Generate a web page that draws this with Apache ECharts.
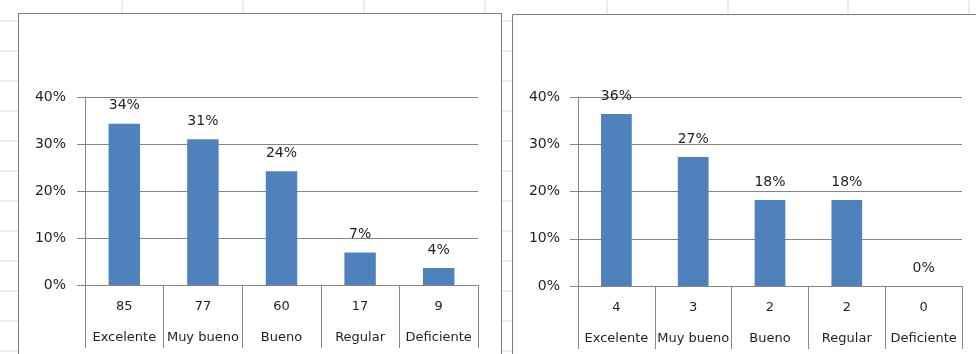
<!DOCTYPE html>
<html>
<head>
<meta charset="utf-8">
<script src="https://cdn.jsdelivr.net/npm/echarts@6/dist/echarts.min.js"></script>
<style>
html,body{margin:0;padding:0;background:#fff;}
#c{width:976px;height:354px;}
</style>
</head>
<body>
<div id="c"></div>
<script>
// Data
var categories = ['Excelente', 'Muy bueno', 'Bueno', 'Regular', 'Deficiente'];
var countsA = [85, 77, 60, 17, 9];
var percentA = [34.3, 31.0, 24.2, 6.9, 3.6];
var countsB = [4, 3, 2, 2, 0];
var percentB = [36.4, 27.3, 18.2, 18.2, 0];
var yTicks = [0, 10, 20, 30, 40];

var FONT = 'DejaVu Sans';
var AX = '#868686';
var TXT = '#1f1f1f';
var BAR = '#4f81bd';

function xAxisFor(idx, counts) {
  return {
    type: 'category', gridIndex: idx, data: categories,
    axisLine: {show: true, lineStyle: {color: AX, width: 1}},
    axisTick: {show: true, interval: 0, length: 63, lineStyle: {color: AX}},
    axisLabel: {
      interval: 0, margin: 6, fontFamily: FONT,
      formatter: function (v, i) { return '{n|' + counts[i] + '}\n{c|' + v + '}'; },
      rich: {
        n: {fontFamily: FONT, fontSize: 13, color: TXT, lineHeight: 31},
        c: {fontFamily: FONT, fontSize: 13, color: TXT, lineHeight: 31}
      }
    }
  };
}
function yAxisFor(idx, margin) {
  return {
    type: 'value', gridIndex: idx, min: yTicks[0], max: yTicks[yTicks.length - 1], interval: 10,
    axisLine: {show: true, lineStyle: {color: AX}},
    axisTick: {show: true, length: 8, lineStyle: {color: AX}},
    splitLine: {show: true, lineStyle: {color: AX, width: 1}},
    axisLabel: {margin: margin, fontFamily: FONT, fontSize: 14, color: TXT, formatter: '{value}%'}
  };
}
function barSeries(idx, vals) {
  return {
    type: 'bar', xAxisIndex: idx, yAxisIndex: idx, data: vals, barWidth: '40%',
    itemStyle: {color: BAR},
    label: {show: true, position: 'top', distance: 11, fontFamily: FONT, fontSize: 14, color: TXT,
      formatter: function (p) { return Math.round(p.value) + '%'; }}
  };
}

// Spreadsheet background decoration
var graphics = [];
var rowYs = [];
for (var y = 21; y <= 351; y += 30) rowYs.push(y);
rowYs.forEach(function (y) {
  graphics.push({type: 'line', silent: true, shape: {x1: 0, y1: y, x2: 18, y2: y}, style: {stroke: '#d9d9d9', lineWidth: 1}});
  graphics.push({type: 'line', silent: true, shape: {x1: 502, y1: y, x2: 512, y2: y}, style: {stroke: '#d9d9d9', lineWidth: 1}});
});
[122, 243, 364, 485].forEach(function (x) {
  graphics.push({type: 'line', silent: true, shape: {x1: x, y1: 0, x2: x, y2: 13}, style: {stroke: '#d9d9d9', lineWidth: 1}});
});
[607, 728, 848, 969].forEach(function (x) {
  graphics.push({type: 'line', silent: true, shape: {x1: x, y1: 0, x2: x, y2: 14}, style: {stroke: '#d9d9d9', lineWidth: 1}});
});
graphics.push({type: 'rect', silent: true, shape: {x: 18.5, y: 13.5, width: 483, height: 360}, style: {fill: 'none', stroke: '#7f7f7f', lineWidth: 1}});
graphics.push({type: 'rect', silent: true, shape: {x: 512.5, y: 14.5, width: 480, height: 360}, style: {fill: 'none', stroke: '#7f7f7f', lineWidth: 1}});

var chart = echarts.init(document.getElementById('c'), null, {renderer: 'canvas'});
chart.setOption({
  animation: false,
  backgroundColor: '#ffffff',
  graphic: graphics,
  grid: [
    {left: 85, top: 97, width: 393, height: 188},
    {left: 578, top: 97, width: 384, height: 189}
  ],
  xAxis: [xAxisFor(0, countsA), xAxisFor(1, countsB)],
  yAxis: [yAxisFor(0, 19), yAxisFor(1, 18)],
  series: [barSeries(0, percentA), barSeries(1, percentB)]
});
</script>
</body>
</html>
